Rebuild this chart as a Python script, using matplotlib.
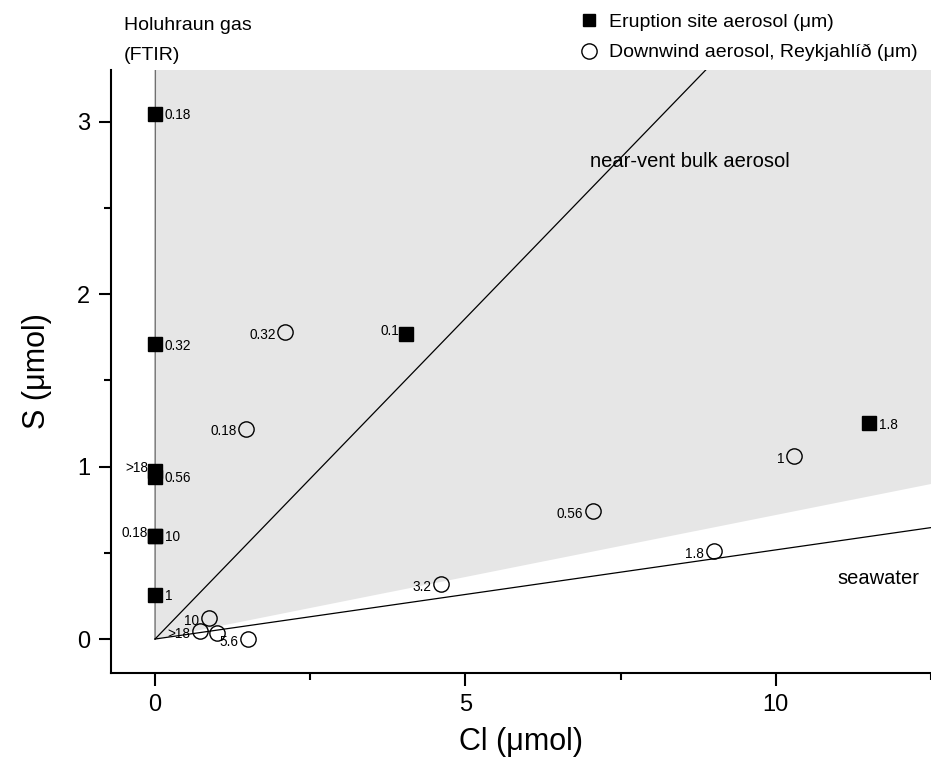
import matplotlib
matplotlib.use("Agg")
import matplotlib.pyplot as plt
from matplotlib.lines import Line2D
import numpy as np

plt.rcParams['font.family'] = ['Liberation Sans', 'DejaVu Sans']

# Eruption site aerosol (filled squares)
erupt_cl = [0.0, 0.0, 0.0, 0.0, 0.0, 0.0, 0.0, 4.05, 11.5]
erupt_s = [3.045, 1.71, 0.975, 0.94, 0.60, 0.60, 0.255, 1.77, 1.25]
erupt_lbl = ['0.18', '0.32', '>18', '0.56', '0.18', '10', '1', '0.1', '1.8']
erupt_side = ['r', 'r', 'l', 'r', 'l', 'r', 'r', 'l', 'r']

# Downwind aerosol, Reykjahlid (open circles)
down_cl = [2.1, 1.47, 10.3, 7.05, 9.0, 4.6, 0.87, 0.73, 1.0, 1.5]
down_s = [1.78, 1.22, 1.06, 0.74, 0.51, 0.32, 0.12, 0.045, 0.035, 0.0]
down_lbl = ['0.32', '0.18', '1', '0.56', '1.8', '3.2', '10', '>18', '', '5.6']

# Reference ratio lines (S/Cl)
seawater_ratio = 0.0517
nearvent_ratio = 0.372
fill_low_ratio = 0.072

xmin, xmax = -0.71, 12.5
ymin, ymax = -0.197, 3.30

fig = plt.figure(figsize=(9.31, 7.74), dpi=100)
ax = fig.add_axes([0.1192, 1 - 673 / 774, 1 - 0.1192, (673 - 70) / 774])

# shaded region between gas line (x=0) and lower bound
xs = np.array([0.0, xmax])
ax.fill([0, 0, xmax, xmax], [0, ymax, ymax, fill_low_ratio * xmax],
        color='#e6e6e6', lw=0, zorder=0)
ax.plot([0, 0.005], [0, ymax], color='#707070', lw=1.0, zorder=1)
ax.plot(xs, nearvent_ratio * xs, color='black', lw=0.9, zorder=1)
ax.plot(xs, seawater_ratio * xs, color='black', lw=0.9, zorder=1)

ax.plot(erupt_cl, erupt_s, ls='none', marker='s', ms=9.5, mfc='black',
        mec='black', zorder=3)
ax.plot(down_cl, down_s, ls='none', marker='o', ms=11, mfc='none',
        mec='black', mew=1.0, zorder=3)

fs_pt = 9.8
for x, y, t, side in zip(erupt_cl, erupt_s, erupt_lbl, erupt_side):
    if side == 'r':
        ax.annotate(t, (x, y), xytext=(7, -1), textcoords='offset points',
                    ha='left', va='center', fontsize=fs_pt)
    else:
        ax.annotate(t, (x, y), xytext=(-5, 2), textcoords='offset points',
                    ha='right', va='center', fontsize=fs_pt)
for x, y, t in zip(down_cl, down_s, down_lbl):
    if t:
        ax.annotate(t, (x, y), xytext=(-7, -2), textcoords='offset points',
                    ha='right', va='center', fontsize=fs_pt)

ax.text(7.0, 2.77, 'near-vent bulk aerosol', fontsize=14.5, ha='left', va='center')
ax.text(11.0, 0.35, 'seawater', fontsize=14.5, ha='left', va='center')

fig.text(124 / 931, 1 - 25 / 774, 'Holuhraun gas', fontsize=14, ha='left', va='center')
fig.text(124 / 931, 1 - 55 / 774, '(FTIR)', fontsize=14, ha='left', va='center')

ax.set_xlim(xmin, xmax)
ax.set_ylim(ymin, ymax)
ax.set_xticks([0, 5, 10])
ax.set_xticks([2.5, 7.5, 12.5], minor=True)
ax.set_yticks([0, 1, 2, 3])
ax.set_yticks([0.5, 1.5, 2.5], minor=True)
ax.tick_params(which='major', length=9, width=1.5, labelsize=17, pad=6)
ax.tick_params(which='minor', length=5, width=1.5)
for s in ['top', 'right']:
    ax.spines[s].set_visible(False)
for s in ['left', 'bottom']:
    ax.spines[s].set_linewidth(1.5)

ax.set_xlabel('Cl (\u03bcmol)', fontsize=22, labelpad=8)
ax.set_ylabel('S (\u03bcmol)', fontsize=22, labelpad=18)

handles = [
    Line2D([], [], ls='none', marker='s', ms=9, mfc='black', mec='black'),
    Line2D([], [], ls='none', marker='o', ms=11, mfc='none', mec='black'),
]
fig.legend(handles, ['Eruption site aerosol (\u03bcm)', 'Downwind aerosol, Reykjahl\u00edð (\u03bcm)'],
           loc='upper right', bbox_to_anchor=(1.0, 1.0), frameon=False,
           fontsize=14, handletextpad=0.4, labelspacing=0.65, borderpad=0.2,
           handlelength=1.2)

fig.savefig('out.png', dpi=100)
